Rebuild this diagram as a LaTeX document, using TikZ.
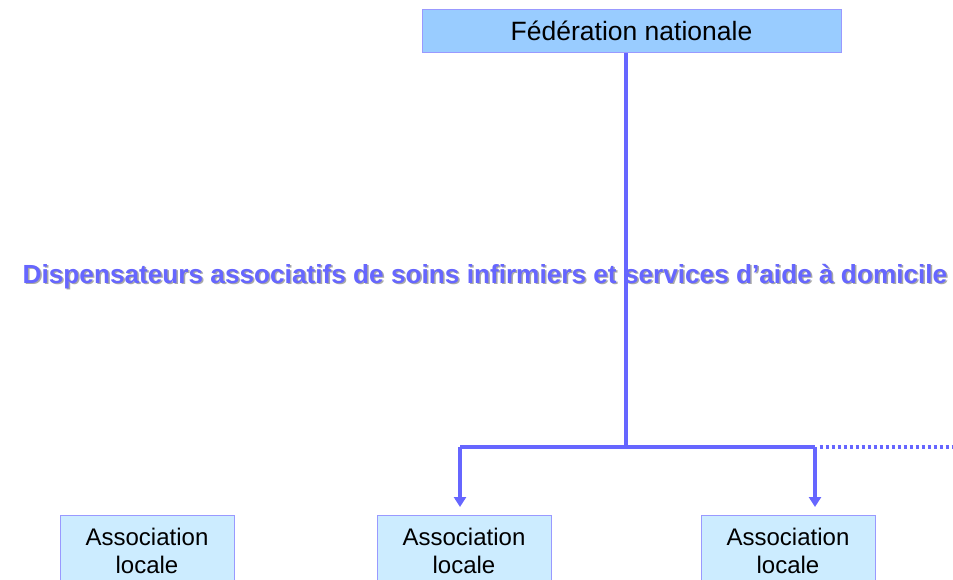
\documentclass[tikz,border=0pt]{standalone}
\usepackage{fontspec}
\setmainfont{Liberation Sans}
\usetikzlibrary{arrows.meta}
\definecolor{linec}{HTML}{6666FF}
\definecolor{fedfill}{HTML}{99CCFF}
\definecolor{boxline}{HTML}{9999FF}
\definecolor{assfill}{HTML}{CCECFF}
\definecolor{shadowc}{HTML}{A8A8A8}
\tikzset{
  conn/.style={draw=linec, line width=3.5pt},
  arr/.style={conn, -{Triangle[width=12pt,length=10pt]}},
  dotline/.style={draw=linec, line width=3.5pt, dash pattern=on 3pt off 3pt},
  fedbox/.style={draw=boxline, fill=fedfill, line width=1pt, minimum width=419pt, minimum height=43pt,
    inner sep=0pt, text height=19pt, text depth=0pt, font=\fontsize{26.5}{30}\selectfont},
  assbox/.style={draw=boxline, fill=assfill, line width=1pt, minimum width=174pt, anchor=north,
    align=center, inner xsep=0pt, inner ysep=13pt, text height=45pt, text depth=0pt,
    font=\fontsize{24}{28}\selectfont},
  title/.style={font=\fontsize{26.2}{30}\selectfont\bfseries, anchor=base, inner sep=0pt}
}
\begin{document}
\begin{tikzpicture}[x=1pt,y=-1pt]
\clip (0,0) rectangle (953,580);
\fill[white] (0,0) rectangle (953,580);
% title with shadow
\node[title, text=shadowc] (tshadow) at (486.5,284.5) {Dispensateurs associatifs de soins infirmiers et services d’aide à domicile};
\node[title, text=linec] (title) at (485,283) {Dispensateurs associatifs de soins infirmiers et services d’aide à domicile};
% boxes
\node[fedbox] (fed) at (631.5,31.5) {Fédération nationale};
\node[assbox] (a1) at (147,515) {Association\\locale};
\node[assbox] (a2) at (464,515) {Association\\locale};
\node[assbox] (a3) at (788,515) {Association\\locale};
% connectors
\coordinate (j) at (626,447);
\coordinate (l) at (460,447);
\coordinate (r) at (815,447);
\coordinate (e) at (956,447);
\draw[conn] (fed.south -| j) -- (j);
\draw[conn] (l) -- (r);
\draw[dotline] ([xshift=4.5pt]r) -- (e);
\draw[arr] (l) -- ([yshift=8pt]l |- a2.north);
\draw[arr] (r) -- ([yshift=8pt]r |- a3.north);
\end{tikzpicture}
\end{document}
